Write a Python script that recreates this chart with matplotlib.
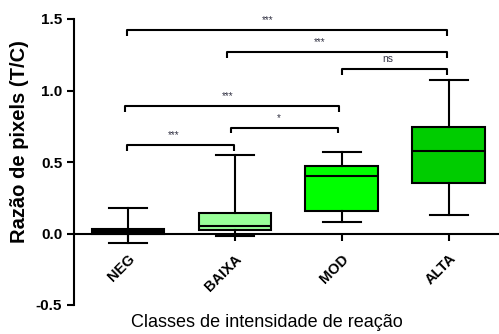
import matplotlib
matplotlib.use("Agg")
import matplotlib.pyplot as plt

plt.rcParams['font.family'] = ['Liberation Sans', 'DejaVu Sans']

# data (box plot summary per class)
categories = ["NEG", "BAIXA", "MOD", "ALTA"]
whislo = [-0.065, -0.015, 0.077, 0.13]
q1 = [0.0, 0.025, 0.156, 0.355]
med = [0.01, 0.053, 0.40, 0.576]
q3 = [0.033, 0.14, 0.47, 0.743]
whishi = [0.18, 0.55, 0.57, 1.075]
colors = ["black", "#99ff99", "#00ff00", "#00cc00"]

# significance comparisons
comp_labels = ["***", "***", "ns", "***", "*", "***"]

# layout of brackets (bar ends, bar height, label x)
bar_y = [1.42, 1.27, 1.15, 0.89, 0.74, 0.62]
bar_x0 = [0.99, 1.93, 3.0, 0.97, 1.96, 0.99]
bar_x1 = [3.98, 3.98, 3.98, 2.97, 2.96, 1.99]
lab_x = [2.31, 2.79, 3.43, 1.93, 2.41, 1.43]

fig = plt.figure(figsize=(4.99, 3.34), dpi=100)
ax = fig.add_axes([74 / 499, 29 / 334, 1 - 74 / 499, (305 - 19) / 334])

# spine position first: it resets the ticks
ax.spines['top'].set_visible(False)
ax.spines['right'].set_visible(False)
ax.spines['bottom'].set_position(('data', 0))

stats = []
for i in range(len(categories)):
    stats.append(dict(whislo=whislo[i], q1=q1[i], med=med[i],
                      q3=q3[i], whishi=whishi[i], fliers=[]))

lw = 1.5
bp = ax.bxp(stats, positions=range(1, 5), widths=0.68, patch_artist=True,
            showfliers=False, capwidths=0.355, manage_ticks=False,
            boxprops=dict(linewidth=lw, edgecolor="black"),
            medianprops=dict(color="black", linewidth=lw),
            whiskerprops=dict(color="black", linewidth=lw),
            capprops=dict(color="black", linewidth=lw))
for patch, c in zip(bp['boxes'], colors):
    patch.set_facecolor(c)

# brackets
d = 0.04
for i in range(len(comp_labels)):
    y = bar_y[i]
    ax.plot([bar_x0[i], bar_x0[i], bar_x1[i], bar_x1[i]], [y - d, y, y, y - d],
            color="black", linewidth=lw, solid_capstyle="butt", clip_on=False)
    ax.text(lab_x[i], y + 0.035, comp_labels[i], ha="center", va="bottom",
            fontsize=7.5 if comp_labels[i] == "ns" else 7, color="#333344")

ax.set_xlim(0.495, 4.47)
ax.set_ylim(-0.5, 1.5)
ax.set_yticks([-0.5, 0.0, 0.5, 1.0, 1.5])
ax.set_yticklabels(["-0.5", "0.0", "0.5", "1.0", "1.5"], fontweight="bold", fontsize=11)
ax.set_xticks([1, 2, 3, 4])
ax.set_xticklabels(categories, rotation=45, ha="right", rotation_mode="anchor",
                   fontweight="bold", fontsize=10.5)

ax.spines['left'].set_linewidth(lw)
ax.spines['bottom'].set_linewidth(lw)
ax.tick_params(axis='both', width=lw, length=5, direction='out')
ax.tick_params(axis='x', pad=8)

ax.set_ylabel("Razão de pixels (T/C)", fontweight="bold", fontsize=14.5)
ax.yaxis.set_label_coords(-0.105, 0.57)
fig.text(0.535, 0.033, "Classes de intensidade de reação", ha="center", va="center",
         fontsize=13)

fig.savefig("out.png", dpi=100)
